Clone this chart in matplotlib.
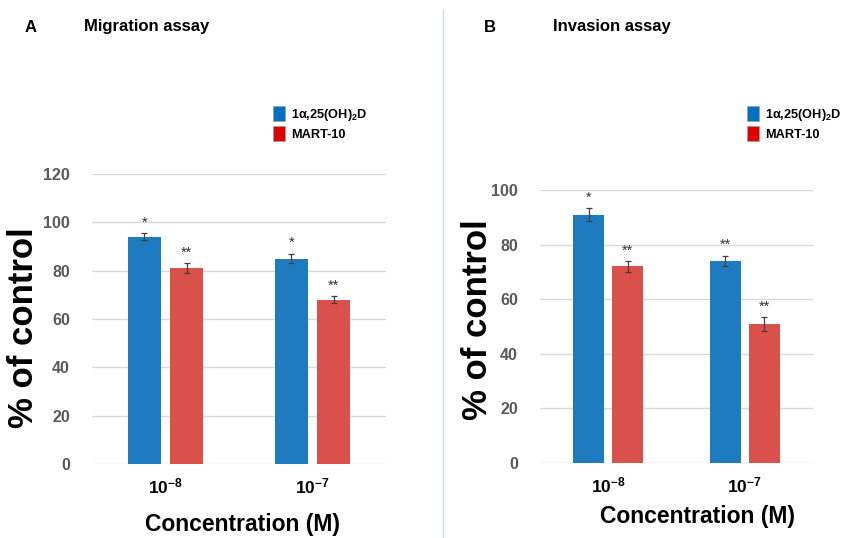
import matplotlib
matplotlib.use("Agg")
import matplotlib.pyplot as plt
from matplotlib.patches import Patch
from matplotlib.lines import Line2D
import numpy as np

plt.rcParams['font.family'] = ['Liberation Sans', 'DejaVu Sans']
plt.rcParams['mathtext.fontset'] = 'custom'
plt.rcParams['mathtext.rm'] = 'Liberation Sans'
plt.rcParams['mathtext.bf'] = 'Liberation Sans:bold'
plt.rcParams['mathtext.it'] = 'Liberation Sans:italic'

categories = ["$\\mathbf{10^{-8}}$", "$\\mathbf{10^{-7}}$"]
series_names = ["1α,25(OH)$_\\mathbf{2}$D", "MART-10"]

mig_calcitriol = [94, 85]
mig_calcitriol_err = [1.5, 2.0]
mig_mart10 = [81, 68]
mig_mart10_err = [2.0, 1.5]
mig_calcitriol_sig = ["*", "*"]
mig_mart10_sig = ["**", "**"]

inv_calcitriol = [91, 74]
inv_calcitriol_err = [2.5, 2.0]
inv_mart10 = [72, 51]
inv_mart10_err = [2.0, 2.5]
inv_calcitriol_sig = ["*", "**"]
inv_mart10_sig = ["**", "**"]

blue = "#1F7BBF"
red = "#DA514C"
tick_gray = "#595959"
grid_gray = "#D9D9D9"

W, H = 843, 538
fig = plt.figure(figsize=(W / 100, H / 100), dpi=100)


def make_panel(rect, v1, e1, v2, e2, s1, s2, ymax, ystep, bw):
    ax = fig.add_axes(rect)
    x = np.arange(len(categories))
    off = 0.143
    ax.bar(x - off, v1, bw, color=blue, zorder=2)
    ax.bar(x + off, v2, bw, color=red, zorder=2)
    ax.errorbar(x - off, v1, yerr=e1, fmt="none", ecolor="#404040",
                elinewidth=0.9, capsize=2.5, capthick=0.9, zorder=3)
    ax.errorbar(x + off, v2, yerr=e2, fmt="none", ecolor="#404040",
                elinewidth=0.9, capsize=2.5, capthick=0.9, zorder=3)
    for xi, v, e, s in zip(x - off, v1, e1, s1):
        ax.text(xi, v + e + ymax * 0.012, s, ha="center", va="bottom",
                fontsize=10.5, color="#333333")
    for xi, v, e, s in zip(x + off, v2, e2, s2):
        ax.text(xi, v + e + ymax * 0.012, s, ha="center", va="bottom",
                fontsize=10.5, color="#333333")
    ax.set_xlim(-0.5, 1.5)
    ax.set_ylim(0, ymax)
    ax.set_yticks(np.arange(0, ymax + 1, ystep))
    ax.yaxis.grid(True, color=grid_gray, linewidth=1.0, zorder=0)
    ax.set_axisbelow(True)
    for sp in ax.spines.values():
        sp.set_visible(False)
    ax.tick_params(axis="both", length=0)
    ax.set_xticks(x)
    ax.set_xticklabels(categories, fontsize=12.5, color="black")
    for lab in ax.get_yticklabels():
        lab.set_fontweight("bold")
        lab.set_color(tick_gray)
        lab.set_fontsize(11.5)
    ax.tick_params(axis="y", pad=16)
    ax.tick_params(axis="x", pad=9)
    return ax


axA = make_panel([92 / W, 1 - 464 / H, 294 / W, 290 / H],
                 mig_calcitriol, mig_calcitriol_err, mig_mart10, mig_mart10_err,
                 mig_calcitriol_sig, mig_mart10_sig, 120, 20, 0.22)
axB = make_panel([540 / W, 1 - 463 / H, 273 / W, 273 / H],
                 inv_calcitriol, inv_calcitriol_err, inv_mart10, inv_mart10_err,
                 inv_calcitriol_sig, inv_mart10_sig, 100, 20, 0.23)

# titles
fig.text(25 / W, 1 - 27 / H, "A", fontsize=12, fontweight="bold", va="center")
fig.text(84 / W, 1 - 27 / H, "Migration assay", fontsize=12, fontweight="bold", va="center")
fig.text(484 / W, 1 - 27 / H, "B", fontsize=12, fontweight="bold", va="center")
fig.text(553 / W, 1 - 27 / H, "Invasion assay", fontsize=12, fontweight="bold", va="center")

# y labels
fig.text(24 / W, 1 - 328 / H, "% of control", fontsize=25, fontweight="bold",
         rotation=90, ha="center", va="center")
fig.text(478 / W, 1 - 320 / H, "% of control", fontsize=25, fontweight="bold",
         rotation=90, ha="center", va="center")

# x labels
fig.text(242 / W, 1 - 524 / H, "Concentration (M)", fontsize=16.5, fontweight="bold",
         ha="center", va="center")
fig.text(697 / W, 1 - 517 / H, "Concentration (M)", fontsize=16.5, fontweight="bold",
         ha="center", va="center")

# legends
handles = [Patch(facecolor="#0070C0", edgecolor="#A0A0A0", linewidth=0.5),
           Patch(facecolor="#E00000", edgecolor="#A0A0A0", linewidth=0.5)]
for lx, ly in [(264 / W, 1 - 97 / H), (738 / W, 1 - 97 / H)]:
    fig.legend(handles, series_names, loc="upper left", bbox_to_anchor=(lx, ly),
               frameon=False, handlelength=0.95, handleheight=1.45,
               handletextpad=0.5, labelspacing=0.25, borderpad=0.2,
               prop={"weight": "bold", "size": 9.2})

# divider line
fig.add_artist(Line2D([443 / W, 443 / W], [0, 1 - 10 / H], color="#C8E0E8",
                      linewidth=1.0, transform=fig.transFigure))

fig.savefig("out.png", dpi=100)
